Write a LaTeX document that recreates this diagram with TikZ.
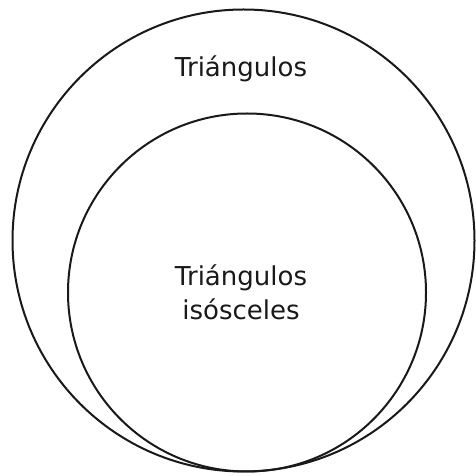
\documentclass[tikz,border=0pt]{standalone}
\usepackage{fontspec}
\setmainfont{DejaVu Sans}
\begin{document}
\begin{tikzpicture}[x=1pt,y=1pt,
  ring/.style={draw=black!90, line width=2pt},
  lbl/.style={font=\fontsize{26}{35}\selectfont, text=black!90, align=center, inner sep=0pt}]
\useasboundingbox (0,0) rectangle (475,476);
\draw[ring] (243.5,235.5) circle[radius=231];
\draw[ring] (247,183.5) circle[radius=179];
\node[lbl, anchor=base] (outer) at (241,399) {Triángulos};
\node[lbl, anchor=base] (inner) at (241,190) {Triángulos};
\node[lbl, anchor=base] (inner2) at (241,156) {isósceles};
\end{tikzpicture}
\end{document}
